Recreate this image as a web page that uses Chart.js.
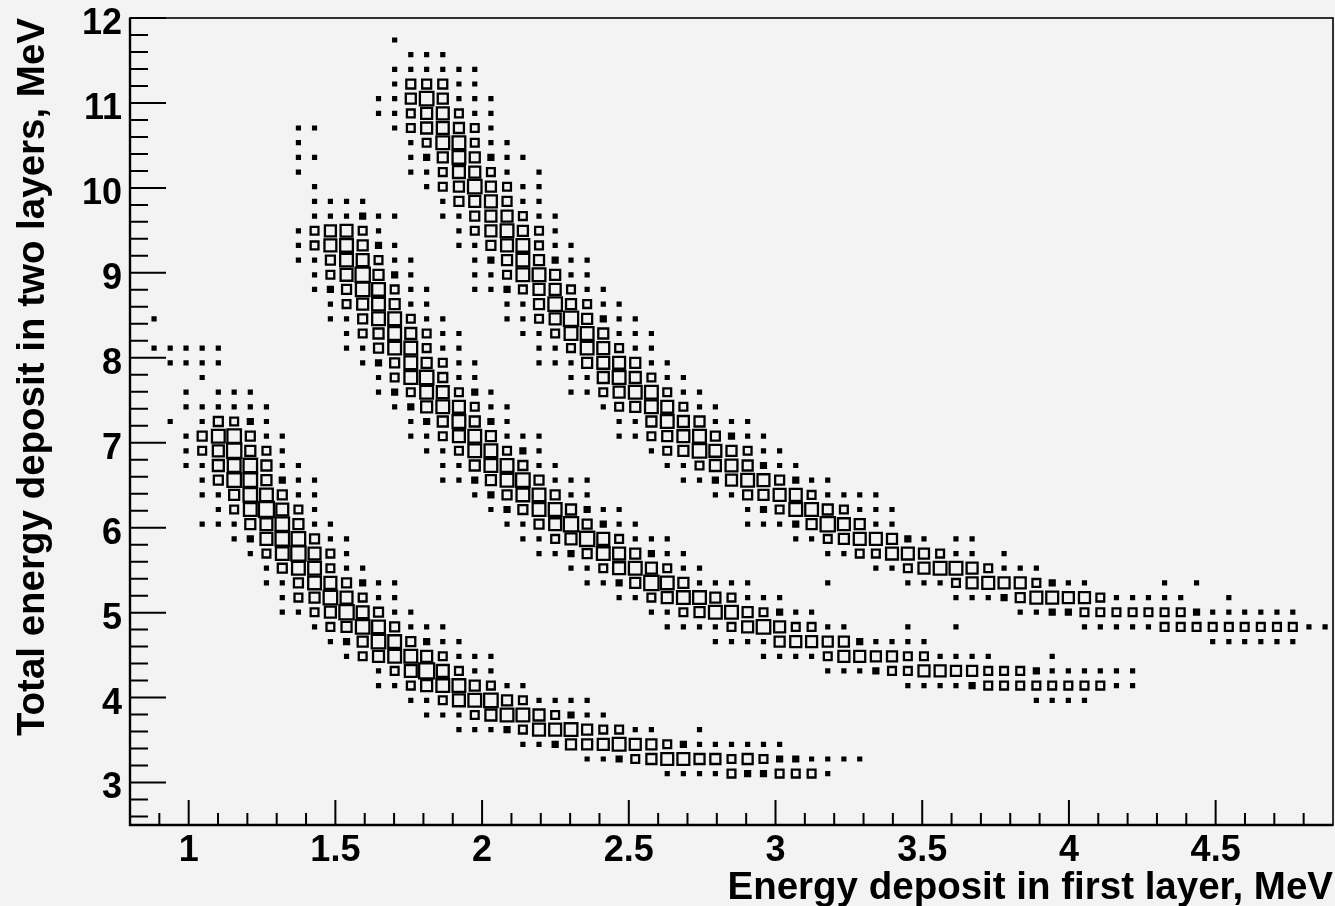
<!DOCTYPE html>
<html lang="en">
  <head>
    <meta charset="UTF-8" />
    <script src="https://cdn.jsdelivr.net/npm/chart.js"></script>
    <title>Energy deposit</title>
    <style>
      html, body { margin: 0; background: #f3f3f3; }
      canvas { display: block; filter: blur(0.7px); }
    </style>
  </head>
  <body>
    <canvas id="myChart" width="1335" height="906"></canvas>
    <script>
      // bin centres, MeV
      const binX = [0.827,0.882,0.937,0.991,1.046,1.101,1.155,1.210,1.265,1.319,1.374,1.429,1.483,1.538,1.593,
        1.647,1.702,1.757,1.811,1.866,1.921,1.975,2.030,2.085,2.139,2.194,2.249,2.303,2.358,2.413,
        2.467,2.522,2.577,2.631,2.686,2.741,2.795,2.850,2.905,2.959,3.014,3.069,3.123,3.178,3.233,
        3.287,3.342,3.397,3.451,3.506,3.561,3.615,3.670,3.725,3.779,3.834,3.889,3.943,3.998,4.053,
        4.107,4.162,4.217,4.271,4.326,4.381,4.435,4.490,4.545,4.599,4.654,4.709,4.763,4.818,4.873];
      const binY = [2.586,2.759,2.932,3.105,3.277,3.450,3.623,3.795,3.968,4.141,4.314,4.486,4.659,4.832,5.005,
        5.177,5.350,5.523,5.695,5.868,6.041,6.214,6.386,6.559,6.732,6.905,7.077,7.250,7.423,7.595,
        7.768,7.941,8.114,8.286,8.459,8.632,8.805,8.977,9.150,9.323,9.495,9.668,9.841,10.014,10.186,
        10.359,10.532,10.705,10.877,11.050,11.223,11.395,11.568,11.741,11.914];

      // box contents: [y bin, first x bin, counts...]
      const cellRuns = [
        [3,33,[1,1,1,1,4,2,2,4,4,4,1]],
        [4,28,[1,1,2,4,6,8,8,6,6,4,6,4,2,2,1,1,1,1]],
        [5,24,[1,1,2,6,6,7,9,7,6,4,2,1,1,1,1,1,1]],
        [6,20,[1,1,1,2,4,8,8,9,6,4,4,1,1,0,0,1]],
        [7,18,[1,1,1,4,7,9,9,7,4,2,1,1]],
        [8,17,[1,1,4,8,9,10,6,4,1,1,1,1]],
        [8,56,[1,1,1,1]],
        [9,15,[1,1,4,7,9,9,6,4,1,1]],
        [9,48,[1,1,1,1,2,4,4,4,4,4,4,4,4,1,1]],
        [10,15,[1,4,8,12,8,4,1,1]],
        [10,43,[1,1,1,2,4,4,7,7,6,6,4,4,4,2,1,1,1,1,1,1]],
        [11,13,[1,4,7,9,9,7,4,1,1,1]],
        [11,39,[1,1,1,1,4,7,7,6,6,4,4,1,1,1,1,0,0,0,1]],
        [12,12,[1,2,6,10,9,5,2,1,1]],
        [12,36,[1,1,1,1,6,7,7,6,6,2,1,1,1,1]],
        [12,67,[1,1,1,1,1,1]],
        [13,11,[1,4,6,10,9,5,1,1,1]],
        [13,33,[1,1,1,1,4,7,10,7,4,4,1,1]],
        [13,48,[1,0,0,1]],
        [13,59,[1,1,1,1,1,4,4,4,4,4,4,4,4,4,1,1]],
        [14,9,[1,1,4,7,11,8,5,1,1]],
        [14,32,[1,1,4,6,9,9,6,4,2,1,1]],
        [14,55,[1,1,2,2,4,4,4,4,4,4,4,2,1,1,1,1,1,1]],
        [15,9,[1,4,6,10,8,4,1,1]],
        [15,30,[1,1,4,7,9,9,6,4,1,1,1]],
        [15,51,[1,1,1,2,5,8,8,7,7,4,1,1,1,1,1,0,0,1]],
        [16,8,[1,1,5,9,8,5,2,1,1]],
        [16,28,[1,1,2,6,11,9,6,1,1,1,1]],
        [16,43,[1]],
        [16,48,[1,1,1,4,7,8,7,7,4,2,1,1]],
        [16,64,[1,0,1]],
        [17,8,[1,5,9,9,4,1,1]],
        [17,27,[1,1,4,8,9,7,4,1,1]],
        [17,46,[1,1,4,7,9,9,7,4,1,1,1]],
        [18,7,[1,4,9,11,8,4,1]],
        [18,25,[1,1,2,5,9,8,6,2,1,1]],
        [18,43,[1,1,4,4,8,8,6,4,1,1,0,1]],
        [19,6,[1,2,8,10,10,5,1,1]],
        [19,24,[1,1,4,7,11,8,4,1,1,1]],
        [19,41,[1,1,4,6,8,8,6,2,1,0,1,1]],
        [20,4,[1,1,1,6,8,10,6,1,1]],
        [20,23,[1,1,5,8,11,5,2,1,1]],
        [20,38,[1,1,1,2,6,11,8,6,1,1]],
        [21,5,[1,4,9,12,8,4,1]],
        [21,22,[1,2,5,9,9,6,2,1,1]],
        [21,38,[1,2,4,9,9,6,4,1,1,1]],
        [22,4,[1,1,6,10,9,5,1,1]],
        [22,21,[1,2,5,9,9,5,1,1]],
        [22,36,[1,1,5,6,8,8,4,1,1,1,1]],
        [23,4,[1,5,10,10,6,2,1,1]],
        [23,19,[1,1,2,6,9,10,5,1,1,1]],
        [23,34,[1,1,2,7,9,8,5,2,1,1]],
        [24,3,[1,1,7,9,10,6,1,1]],
        [24,19,[1,1,6,9,9,5,1,1]],
        [24,33,[1,1,4,7,8,6,2,1,1]],
        [25,3,[1,4,7,11,6,4,1]],
        [25,18,[1,1,4,9,9,4,2,1]],
        [25,32,[1,4,6,10,8,6,4,1,1]],
        [26,3,[1,5,9,10,5,1,1]],
        [26,17,[1,1,4,8,9,6,1,1,1]],
        [26,30,[1,1,4,6,8,9,5,2,1,1]],
        [27,2,[1,0,1,5,4,2,1]],
        [27,17,[1,2,6,9,6,2,1]],
        [27,30,[1,1,6,9,7,6,1,1,1]],
        [28,3,[1,1,1,1,1,1]],
        [28,16,[1,2,7,9,8,4,1,1]],
        [28,29,[1,4,6,9,8,4,1,1]],
        [29,3,[1,0,1,1,1]],
        [29,15,[1,2,4,9,8,4,2,1]],
        [29,27,[1,1,4,7,9,9,4,1,1]],
        [30,4,[1]],
        [30,15,[1,4,9,10,5,1,1]],
        [30,27,[1,1,7,9,7,4,1,1]],
        [31,2,[1,1,1,1]],
        [31,14,[1,2,5,9,6,4,1,1]],
        [31,25,[1,1,1,6,8,8,6,1,1]],
        [32,1,[1,1,1,1,1]],
        [32,13,[1,1,5,9,9,4,1,1]],
        [32,25,[1,1,4,9,8,4,1,1]],
        [33,13,[1,4,6,9,7,4,1,1]],
        [33,24,[1,1,4,9,9,6,1,1,1]],
        [34,1,[1]],
        [34,12,[1,1,5,9,9,4,1,1]],
        [34,23,[1,1,4,7,11,6,2,1,1]],
        [35,12,[1,4,7,9,6,1,1]],
        [35,23,[1,1,6,10,6,4,1,1]],
        [36,11,[1,2,5,10,9,4,1,1]],
        [36,21,[1,1,2,4,7,7,4,1,1]],
        [37,11,[1,4,8,11,6,2,1]],
        [37,21,[1,1,4,9,9,6,1,1]],
        [38,10,[1,1,5,9,8,4,1,1]],
        [38,21,[1,2,6,9,6,2,1,1]],
        [39,10,[1,4,8,9,6,2,1]],
        [39,20,[1,1,5,8,9,4,1,1]],
        [40,10,[1,4,7,8,4,1]],
        [40,20,[1,4,7,9,6,4,1]],
        [41,11,[1,1,1,2,1,1]],
        [41,19,[1,1,5,7,7,4,1,1]],
        [42,11,[1,1,1,1]],
        [42,19,[1,5,7,8,5,1,1]],
        [43,11,[1]],
        [43,18,[1,4,6,10,6,4,1,1]],
        [44,10,[1]],
        [44,17,[1,1,4,8,7,4,1,0,1]],
        [45,10,[1,1]],
        [45,17,[1,2,6,9,6,2,1,1]],
        [46,10,[1]],
        [46,17,[1,4,9,9,4,1,1]],
        [47,10,[1,1]],
        [47,16,[1,4,7,8,6,4,1]],
        [48,15,[1,1,4,7,8,4,1,1]],
        [49,15,[1,1,6,10,6,1,1,1]],
        [50,16,[1,5,5,5,1,1]],
        [51,16,[1,1,1,1,1,1]],
        [52,17,[1,1,1]],
        [53,16,[1]],
      ];

      const xTicks = [0.9,1,1.1,1.2,1.3,1.4,1.5,1.6,1.7,1.8,1.9,2,2.1,2.2,2.3,2.4,2.5,2.6,2.7,2.8,2.9,3,3.1,3.2,3.3,3.4,3.5,3.6,3.7,3.8,3.9,4,4.1,4.2,4.3,4.4,4.5,4.6,4.7,4.8];
      const xLabels = [1,1.5,2,2.5,3,3.5,4,4.5];
      const yTicks = [2.6,2.8,3,3.2,3.4,3.6,3.8,4,4.2,4.4,4.6,4.8,5,5.2,5.4,5.6,5.8,6,6.2,6.4,6.6,6.8,7,7.2,7.4,7.6,7.8,8,8.2,8.4,8.6,8.8,9,9.2,9.4,9.6,9.8,10,10.2,10.4,10.6,10.8,11,11.2,11.4,11.6,11.8,12];
      const yLabels = [3,4,5,6,7,8,9,10,11,12];

      const points = [];
      cellRuns.forEach(([row, first, counts]) => {
        counts.forEach((c, k) => {
          if (c > 0) points.push({ x: binX[first + k], y: binY[row], c: c });
        });
      });

      const tickFont = { family: "'Liberation Sans', Arial, sans-serif", size: 36, weight: "bold" };
      const titleFont = { family: "'Liberation Sans', Arial, sans-serif", size: 38.5, weight: "bold" };

      // ROOT style: frame round the pad and ticks pointing inwards
      const frame = {
        id: "frame",
        afterDraw(chart) {
          const { ctx, chartArea: a, scales } = chart;
          ctx.save();
          ctx.strokeStyle = "#000";
          ctx.lineWidth = 1.6;
          ctx.strokeRect(a.left, a.top, a.right - a.left, a.bottom - a.top);
          ctx.lineWidth = 2.4;
          ctx.beginPath();
          ctx.moveTo(a.left, a.top);
          ctx.lineTo(a.left, a.bottom);
          ctx.lineTo(a.right, a.bottom);
          ctx.stroke();
          ctx.lineWidth = 2;
          ctx.beginPath();
          xTicks.forEach((v) => {
            const p = scales.x.getPixelForValue(v);
            ctx.moveTo(p, a.bottom);
            ctx.lineTo(p, a.bottom - (xLabels.includes(v) ? 25 : 12));
          });
          yTicks.forEach((v) => {
            const p = scales.y.getPixelForValue(v);
            ctx.moveTo(a.left, p);
            ctx.lineTo(a.left + (yLabels.includes(v) ? 36 : 18), p);
          });
          ctx.stroke();
          ctx.restore();
        },
      };

      const config = {
        type: "scatter",
        data: {
          datasets: [
            {
              data: points,
              pointStyle: "rect",
              borderColor: "#000",
              pointBorderWidth: 2.3,
              pointBackgroundColor: (ctx) => (ctx.raw && ctx.raw.c <= 2 ? "#000" : "rgba(0,0,0,0)"),
              pointRadius: (ctx) => (ctx.raw ? (4.9 * Math.sqrt(ctx.raw.c) - 2) * Math.SQRT1_2 : 0),
            },
          ],
        },
        options: {
          responsive: false,
          animation: false,
          layout: { autoPadding: false, padding: { top: 18, right: 2 } },
          plugins: { legend: { display: false }, tooltip: { enabled: false } },
          scales: {
            x: {
              type: "linear",
              min: 0.8,
              max: 4.9,
              grid: { display: false },
              border: { display: false },
              afterBuildTicks: (s) => { s.ticks = xTicks.map((v) => ({ value: v })); },
              afterFit: (s) => { s.height = 81; s.paddingLeft = 0; s.paddingRight = 0; },
              ticks: {
                autoSkip: false,
                maxRotation: 0,
                color: "#000",
                font: tickFont,
                padding: -4,
                callback: (v) => (xLabels.includes(v) ? String(v) : ""),
              },
              title: {
                display: true,
                text: "Energy deposit in first layer, MeV",
                align: "end",
                color: "#000",
                font: titleFont,
                padding: { top: 0, bottom: -5 },
              },
            },
            y: {
              type: "linear",
              min: 2.5,
              max: 12,
              grid: { display: false },
              border: { display: false },
              afterBuildTicks: (s) => { s.ticks = yTicks.map((v) => ({ value: v })); },
              afterFit: (s) => { s.width = 130; s.paddingTop = 0; s.paddingBottom = 0; },
              ticks: {
                autoSkip: false,
                color: "#000",
                font: tickFont,
                padding: 0,
                labelOffset: 6,
                callback: (v) => (yLabels.includes(v) ? String(v) : ""),
              },
              title: {
                display: true,
                text: "Total energy deposit in two layers, MeV",
                align: "end",
                color: "#000",
                font: titleFont,
                padding: { top: 10, bottom: 0 },
              },
            },
          },
        },
        plugins: [frame],
      };
      var myChart = new Chart(document.getElementById("myChart"), config);
    </script>
  </body>
</html>
